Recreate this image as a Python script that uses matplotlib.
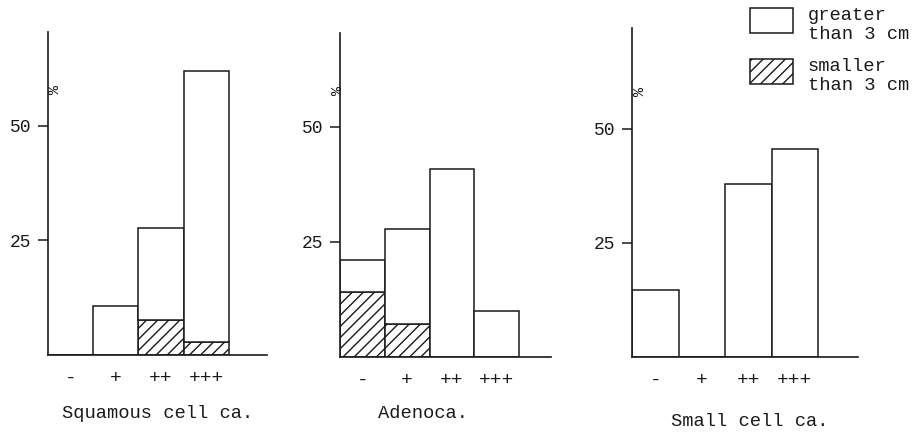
import matplotlib
matplotlib.use("Agg")
import matplotlib.pyplot as plt
from matplotlib.patches import Rectangle

plt.rcParams['font.family'] = ['Liberation Mono', 'DejaVu Sans Mono']
plt.rcParams['hatch.linewidth'] = 1.0

categories = ["-", "+", "++", "+++"]
titles = ["Squamous cell ca.", "Adenoca.", "Small cell ca."]

# bar totals (%) and the hatched part (< 3 cm)
squamous_total = [0.0, 10.7, 27.7, 62.0]
squamous_small = [0.0, 0.0, 7.6, 2.8]
adeno_total = [21.0, 27.8, 40.9, 10.0]
adeno_small = [14.1, 7.2, 0.0, 0.0]
smallcell_total = [14.7, 0.0, 37.9, 45.6]
smallcell_small = [0.0, 0.0, 0.0, 0.0]

yticks = [25, 50]

W, H = 913, 432
fig = plt.figure(figsize=(W / 100, H / 100), dpi=100)

# axes rectangles in pixels: left, right, bottom(y px), top(y px)
boxes = [(48, 267, 355, 32), (340, 551, 357, 33), (632, 858, 357, 28)]
xmax = [4.34, 4.21, 4.36]
ymax = [70.5, 70.4, 72.0]
pct_off = [-20, -28, -19]
title_pos = [(158, 414), (423, 413), (750, 421)]
data = [(squamous_total, squamous_small), (adeno_total, adeno_small),
        (smallcell_total, smallcell_small)]

ink = '#1a1a1a'
for i, ((l, r, b, t), (tot, sm)) in enumerate(zip(boxes, data)):
    ax = fig.add_axes([l / W, 1 - b / H, (r - l) / W, (b - t) / H])
    x = list(range(len(categories)))
    greater = [a - s for a, s in zip(tot, sm)]
    ax.bar(x, sm, width=1.0, color='white', edgecolor=ink, hatch='///',
           linewidth=1.1, zorder=2)
    ax.bar(x, greater, bottom=sm, width=1.0, color='white', edgecolor=ink,
           linewidth=1.1, zorder=2)
    ax.set_xlim(-0.5, xmax[i])
    ax.set_ylim(0, ymax[i])
    for s in ['top', 'right']:
        ax.spines[s].set_visible(False)
    for s in ['left', 'bottom']:
        ax.spines[s].set_linewidth(1.2)
        ax.spines[s].set_color(ink)
        ax.spines[s].set_zorder(3)
    ax.set_xticks(x)
    ax.set_xticklabels(categories, fontsize=14, color=ink)
    ax.tick_params(axis='x', length=0, pad=11)
    ax.set_yticks(yticks)
    ax.set_yticklabels([str(v) for v in yticks], fontsize=13, color=ink)
    ax.tick_params(axis='y', direction='out', length=7, width=1.1,
                   pad=5, color=ink)
    ax.annotate('%', xy=(0, 58), xytext=(pct_off[i], 0),
                textcoords='offset pixels', ha='center', va='center',
                rotation=-90, fontsize=11, color=ink, annotation_clip=False)
    fig.text(title_pos[i][0] / W, 1 - title_pos[i][1] / H, titles[i],
             ha='center', va='center', fontsize=13.5, color=ink)

# legend
legend_items = [("greater", "than 3 cm", None, 8), ("smaller", "than 3 cm", '///', 59)]
for top_line, bot_line, hatch, ytop in legend_items:
    rect = Rectangle((750 / W, 1 - (ytop + 25) / H), 43 / W, 25 / H,
                     transform=fig.transFigure, facecolor='white',
                     edgecolor=ink, linewidth=1.1, hatch=hatch)
    fig.add_artist(rect)
    fig.text(808 / W, 1 - (ytop + 12) / H, top_line, ha='left',
             va='baseline', fontsize=13.5, color=ink)
    fig.text(808 / W, 1 - (ytop + 31) / H, bot_line, ha='left',
             va='baseline', fontsize=13.5, color=ink)

fig.savefig('out.png', dpi=100, facecolor='white')
